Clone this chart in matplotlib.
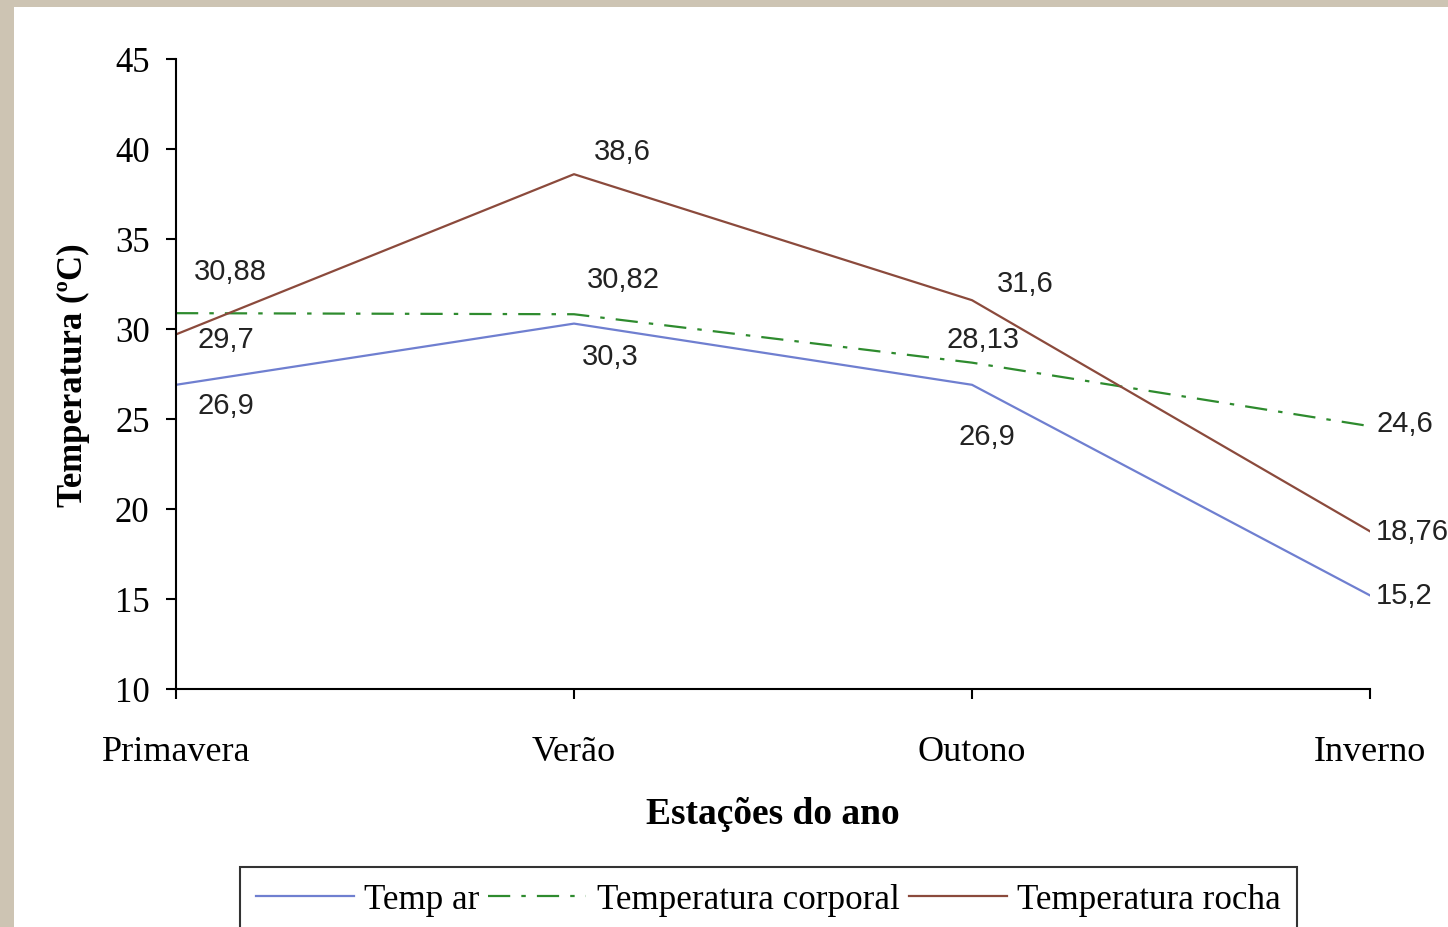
import matplotlib.pyplot as plt
from matplotlib.patches import Rectangle

# Seasons and temperatures (ºC)
seasons = ['Primavera', 'Verão', 'Outono', 'Inverno']
temp_ar = [26.9, 30.3, 26.9, 15.2]
temp_corporal = [30.88, 30.82, 28.13, 24.6]
temp_rocha = [29.7, 38.6, 31.6, 18.76]

# label offsets in pixels (dx, dy) for each point
off_ar = [(50, -20), (36, -32), (15, -51), (6, 0)]
off_corp = [(54, 42), (49, 35), (11, 24), (6, 3)]
off_rocha = [(50, -5), (48, 23), (53, 17), (6, 0)]

serif = 'Liberation Serif'
sans = 'Liberation Sans'

fig = plt.figure(figsize=(14.48, 9.28), dpi=100)
fig.patch.set_facecolor('#cdc4b3')
# white slide area inside the textured border
fig.patches.append(Rectangle((14 / 1448, 0), 1, 1 - 8 / 928, transform=fig.transFigure,
                             facecolor='white', edgecolor='none', zorder=-5))

ax = fig.add_axes([176 / 1448, 1 - 690 / 928, (1370 - 176) / 1448, (690 - 60) / 928])
ax.set_facecolor('none')
ax.set_zorder(2)

x = list(range(len(seasons)))
l1, = ax.plot(x, temp_ar, color='#6f7fd0', lw=1.6, label='Temp ar')
l2, = ax.plot(x, temp_corporal, color='#2e8b2e', lw=1.6, dashes=[10, 5, 2, 5], label='Temperatura corporal')
l3, = ax.plot(x, temp_rocha, color='#8b4a3c', lw=1.6, label='Temperatura rocha')

def label_points(vals, offs):
    for i, (v, (dx, dy)) in enumerate(zip(vals, offs)):
        txt = ('%g' % v).replace('.', ',')
        ha = 'left' if i == len(vals) - 1 else 'center'
        ax.annotate(txt, (i, v), xytext=(dx, dy), textcoords='offset pixels',
                    ha=ha, va='center', fontsize=21, family=sans, color='#222222',
                    annotation_clip=False)

label_points(temp_ar, off_ar)
label_points(temp_corporal, off_corp)
label_points(temp_rocha, off_rocha)

ax.set_xlim(0, 3)
ax.set_ylim(10, 45)
ax.set_yticks(range(10, 46, 5))
ax.set_xticks(x)
ax.set_xticklabels(seasons)
for s in ['top', 'right']:
    ax.spines[s].set_visible(False)
for s in ['left', 'bottom']:
    ax.spines[s].set_linewidth(1.5)
ax.tick_params(axis='y', direction='out', length=7, width=1.5, pad=12, labelsize=25)
ax.tick_params(axis='x', direction='out', length=7, width=1.5, pad=26, labelsize=26)
for t in ax.get_xticklabels() + ax.get_yticklabels():
    t.set_family(serif)

ax.set_ylabel('Temperatura (ºC)', family=serif, fontweight='bold', fontsize=25, labelpad=18)
ax.set_xlabel('Estações do ano', family=serif, fontweight='bold', fontsize=27, labelpad=20)

leg = fig.legend(handles=[l1, l2, l3], loc='upper left', ncol=3,
                 bbox_to_anchor=(240 / 1448, 1 - 868 / 928), borderaxespad=0,
                 prop={'family': serif, 'size': 25.2}, frameon=True, fancybox=False,
                 edgecolor='black', handlelength=2.8, handletextpad=0.3,
                 columnspacing=0.25, borderpad=0.45)
leg.get_frame().set_linewidth(1.5)

fig.savefig('out.png', dpi=100, facecolor=fig.get_facecolor())
